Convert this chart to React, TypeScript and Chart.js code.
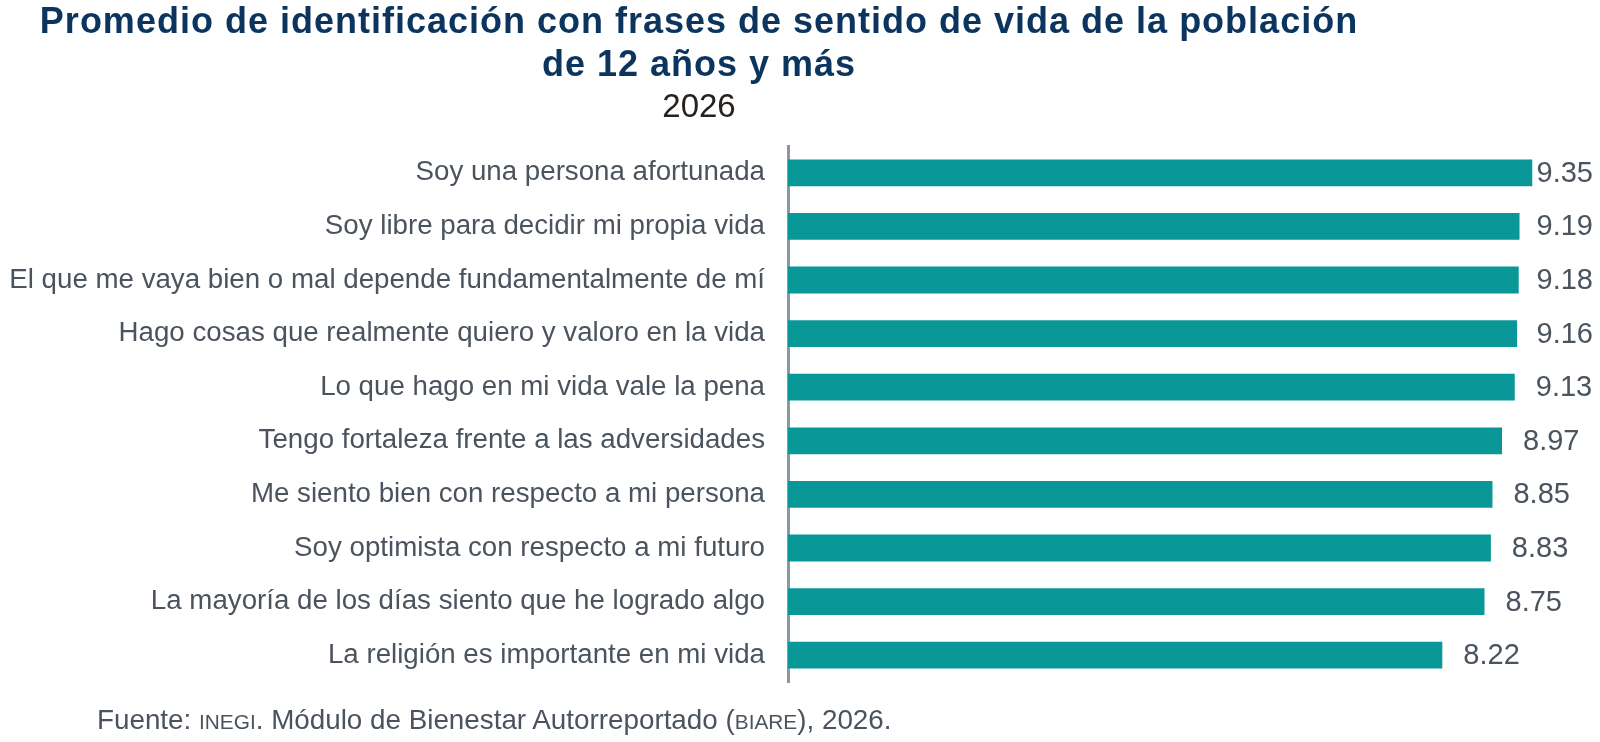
import { useEffect, useRef } from 'react';
import { Chart, registerables } from 'chart.js';

Chart.register(...registerables);

const categories = [
  'Soy una persona afortunada',
  'Soy libre para decidir mi propia vida',
  'El que me vaya bien o mal depende fundamentalmente de mí',
  'Hago cosas que realmente quiero y valoro en la vida',
  'Lo que hago en mi vida vale la pena',
  'Tengo fortaleza frente a las adversidades',
  'Me siento bien con respecto a mi persona',
  'Soy optimista con respecto a mi futuro',
  'La mayoría de los días siento que he logrado algo',
  'La religión es importante en mi vida',
];

const values = [9.35, 9.19, 9.18, 9.16, 9.13, 8.97, 8.85, 8.83, 8.75, 8.22];

const FONT = '"Liberation Sans", Arial, sans-serif';
const BAR_COLOR = '#0a9798';
const TEXT_GRAY = '#4b545e';
const TITLE_BLUE = '#0b345e';

// values printed just past the bar end, kept inside the canvas on the right
const valueLabels = {
  id: 'valueLabels',
  afterDatasetsDraw(chart: Chart) {
    const { ctx } = chart;
    const meta = chart.getDatasetMeta(0);
    ctx.save();
    ctx.font = `29px ${FONT}`;
    ctx.fillStyle = TEXT_GRAY;
    ctx.textAlign = 'left';
    ctx.textBaseline = 'middle';
    meta.data.forEach((bar: any, i: number) => {
      const text = values[i].toFixed(2);
      const w = ctx.measureText(text).width;
      const x = Math.min(bar.x + 21, chart.width - 7 - w);
      ctx.fillText(text, x, bar.y + 1);
    });
    ctx.restore();
  },
};

function BarChart() {
  const canvasRef = useRef<HTMLCanvasElement>(null);
  const chartRef = useRef<Chart | null>(null);

  useEffect(() => {
    if (!canvasRef.current) return;
    if (chartRef.current) chartRef.current.destroy();

    chartRef.current = new Chart(canvasRef.current, {
      type: 'bar',
      data: {
        labels: categories,
        datasets: [
          {
            data: values,
            backgroundColor: BAR_COLOR,
            borderWidth: 0,
            barPercentage: 0.5,
            categoryPercentage: 1,
          },
        ],
      },
      options: {
        indexAxis: 'y',
        animation: false,
        responsive: true,
        maintainAspectRatio: false,
        layout: { padding: { top: 146, bottom: 60, left: 0, right: 16 } },
        plugins: {
          legend: { display: false },
          tooltip: { enabled: false },
        },
        scales: {
          x: {
            display: false,
            min: 0,
            max: 10,
          },
          y: {
            afterFit: (scale: any) => {
              scale.width = 788;
            },
            grid: { display: false, drawTicks: false },
            border: { display: true, color: '#8c97a4', width: 3 },
            ticks: {
              color: TEXT_GRAY,
              padding: 23,
              font: { family: FONT, size: 27.7 },
            },
          },
        },
      },
      plugins: [valueLabels],
    });

    return () => {
      chartRef.current?.destroy();
      chartRef.current = null;
    };
  }, []);

  return <canvas ref={canvasRef} />;
}

export default function App() {
  const line: React.CSSProperties = {
    position: 'absolute',
    left: 0,
    width: 1398,
    textAlign: 'center',
    fontFamily: FONT,
    whiteSpace: 'nowrap',
  };
  const title: React.CSSProperties = {
    ...line,
    fontSize: 36,
    lineHeight: '36px',
    fontWeight: 'bold',
    color: TITLE_BLUE,
    letterSpacing: 1,
  };
  const smallCaps: React.CSSProperties = { fontSize: '0.75em' };
  return (
    <div
      style={{
        position: 'absolute',
        left: 0,
        top: 0,
        width: 1600,
        height: 742,
        background: '#fff',
        overflow: 'hidden',
      }}
    >
      <div style={{ position: 'absolute', inset: 0 }}>
        <BarChart />
      </div>
      <div style={{ ...title, top: 2.5 }}>
        Promedio de identificación con frases de sentido de vida de la población
      </div>
      <div style={{ ...title, top: 45.5 }}>de 12 años y más</div>
      <div style={{ ...line, top: 89, fontSize: 33, lineHeight: '33px', color: '#26221f' }}>
        2026
      </div>
      <div
        style={{
          position: 'absolute',
          left: 97,
          top: 705.5,
          fontSize: 27.8,
          lineHeight: '27.8px',
          fontFamily: FONT,
          color: TEXT_GRAY,
          whiteSpace: 'nowrap',
        }}
      >
        Fuente: <span style={smallCaps}>INEGI</span>. Módulo de Bienestar Autorreportado (
        <span style={smallCaps}>BIARE</span>), 2026.
      </div>
    </div>
  );
}
